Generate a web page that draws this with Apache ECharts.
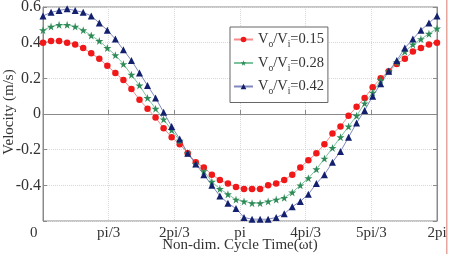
<!DOCTYPE html>
<html>
<head>
<meta charset="utf-8">
<script src="https://cdn.jsdelivr.net/npm/echarts@6/dist/echarts.min.js"></script>
<style>
  html, body { margin: 0; padding: 0; background: #fff; }
  #chart { width: 453px; height: 254px; }
</style>
</head>
<body>
<div id="chart"></div>
<script>
  // velocity samples over one cycle (m/s)
  var red = [0.40, 0.41, 0.41, 0.40, 0.39, 0.37, 0.34, 0.31, 0.27, 0.23, 0.19, 0.14, 0.08,
    0.03, -0.02, -0.08, -0.13, -0.17, -0.22, -0.27, -0.30, -0.34, -0.37, -0.39, -0.41,
    -0.42, -0.42, -0.42, -0.40, -0.39, -0.37, -0.34, -0.30, -0.26, -0.22, -0.17, -0.11,
    -0.07, -0.01, 0.04, 0.09, 0.15, 0.20, 0.24, 0.28, 0.31, 0.35, 0.37, 0.39, 0.40]
  var green = [0.47, 0.49, 0.50, 0.50, 0.49, 0.47, 0.44, 0.41, 0.37, 0.33, 0.28, 0.22, 0.16,
    0.09, 0.03, -0.03, -0.09, -0.15, -0.22, -0.28, -0.32, -0.38, -0.42, -0.45, -0.48,
    -0.49, -0.50, -0.50, -0.49, -0.48, -0.47, -0.44, -0.40, -0.36, -0.31, -0.25, -0.19,
    -0.13, -0.07, -0.01, 0.06, 0.12, 0.19, 0.24, 0.29, 0.35, 0.39, 0.42, 0.45, 0.48]
  var blue = [0.55, 0.57, 0.58, 0.59, 0.58, 0.57, 0.55, 0.51, 0.47, 0.42, 0.36, 0.30, 0.23,
    0.16, 0.09, 0.01, -0.07, -0.14, -0.22, -0.28, -0.34, -0.40, -0.46, -0.50, -0.53,
    -0.58, -0.59, -0.59, -0.59, -0.58, -0.56, -0.52, -0.49, -0.45, -0.39, -0.34, -0.27,
    -0.21, -0.13, -0.05, 0.02, 0.10, 0.17, 0.24, 0.30, 0.37, 0.42, 0.47, 0.51, 0.55]
  var ratios = ['0.15', '0.28', '0.42']
  var tickLabels = ['0', 'pi/3', '2pi/3', 'pi', '4pi/3', '5pi/3', '2pi']
  var samples = red.map(function (v, i) { return i + 1 })

  var serif = '"Liberation Serif", "DejaVu Serif", serif'
  var star = 'path://M50,0 L61,35 L98,35 L68,57 L79,91 L50,70 L21,91 L32,57 L2,35 L39,35 Z'

  function mkSeries(name, data, color, line, symbol, size) {
    return {
      name: name,
      type: 'line',
      xAxisIndex: 0,
      data: data,
      symbol: symbol,
      symbolSize: size,
      showSymbol: true,
      showAllSymbol: true,
      itemStyle: { color: color },
      lineStyle: { color: line, width: 1 },
      emphasis: { disabled: true },
      animation: false
    }
  }

  var chart = echarts.init(document.getElementById('chart'))
  chart.setOption({
    animation: false,
    grid: {
      left: 43, right: 16, top: 7, bottom: 33,
      containLabel: false,
      outerBoundsMode: 'none',
      show: true, borderColor: '#8a8a8a', borderWidth: 1
    },
    legend: {
      orient: 'vertical',
      left: 230, top: 27,
      backgroundColor: '#fff',
      borderColor: '#666',
      borderWidth: 1,
      padding: [5, 4, 6, 3],
      itemGap: 6,
      itemWidth: 19,
      itemHeight: 7,
      formatter: function (name) {
        var r = name.split('=')[1]
        return '{a|V}{b|o}{a|/V}{b|i}{a|=' + r + '}'
      },
      textStyle: {
        fontFamily: serif,
        fontSize: 14.5,
        color: '#333',
        rich: {
          a: { fontFamily: serif, fontSize: 14.5, color: '#333', lineHeight: 20 },
          b: { fontFamily: serif, fontSize: 9.5, color: '#333', lineHeight: 10, verticalAlign: 'bottom' }
        }
      }
    },
    xAxis: [{
      type: 'category',
      position: 'top',
      boundaryGap: false,
      data: samples,
      show: false
    }, {
      type: 'value',
      position: 'bottom',
      min: 0, max: 6, interval: 1,
      axisLine: { lineStyle: { color: '#8a8a8a' } },
      axisTick: { inside: true, length: 4, lineStyle: { color: '#8a8a8a' } },
      axisLabel: {
        fontFamily: serif, fontSize: 15, color: '#333', margin: 5,
        formatter: function (v) {
          // the 0 label sits a little left of the axis in the original
          if (v === 0) return '0\u00a0\u00a0\u00a0\u00a0\u00a0'
          return tickLabels[Math.round(v)]
        }
      },
      splitLine: { show: true, lineStyle: { color: '#d8d8d8', type: 'dotted' } }
    }],
    yAxis: [{
      type: 'value',
      min: -0.6, max: 0.6, interval: 0.2,
      axisLine: { show: true, lineStyle: { color: '#8a8a8a' } },
      axisTick: { show: true, inside: true, length: 4, lineStyle: { color: '#8a8a8a' } },
      axisLabel: {
        fontFamily: serif, fontSize: 16, color: '#333', margin: 2,
        formatter: function (v) {
          var r = Math.round(v * 10) / 10
          if (r <= -0.6) return ''
          return String(r)
        }
      },
      splitLine: { show: true, lineStyle: { color: '#d8d8d8', type: 'dotted' } }
    }, {
      type: 'value',
      position: 'right',
      min: -0.6, max: 0.6, interval: 0.2,
      axisLine: { show: true, lineStyle: { color: '#8a8a8a' } },
      axisTick: { show: true, inside: true, length: 4, lineStyle: { color: '#8a8a8a' } },
      axisLabel: { show: false },
      splitLine: { show: false }
    }],
    graphic: [{
      type: 'text',
      x: 9, y: 112,
      rotation: Math.PI / 2,
      style: {
        text: 'Velocity (m/s)',
        fontFamily: serif, fontSize: 15, fill: '#333',
        align: 'center', verticalAlign: 'middle'
      },
      silent: true
    }, {
      type: 'text',
      x: 240, y: 245,
      style: {
        text: 'Non-dim. Cycle Time(ωt)',
        fontFamily: serif, fontSize: 15, fill: '#333',
        align: 'center', verticalAlign: 'middle'
      },
      silent: true
    }, {
      type: 'rect',
      shape: { x: 446, y: 0, width: 1.5, height: 254 },
      style: { fill: '#e6a59c' },
      silent: true
    }],
    series: [
      mkSeries('Vo/Vi=' + ratios[0], red, '#f01818', '#f58a8a', 'circle', 6.5),
      mkSeries('Vo/Vi=' + ratios[1], green, '#2e8b57', '#7cc39d', star, 8),
      mkSeries('Vo/Vi=' + ratios[2], blue, '#13206e', '#8088c2', 'triangle', 7)
    ]
  })
</script>
</body>
</html>
